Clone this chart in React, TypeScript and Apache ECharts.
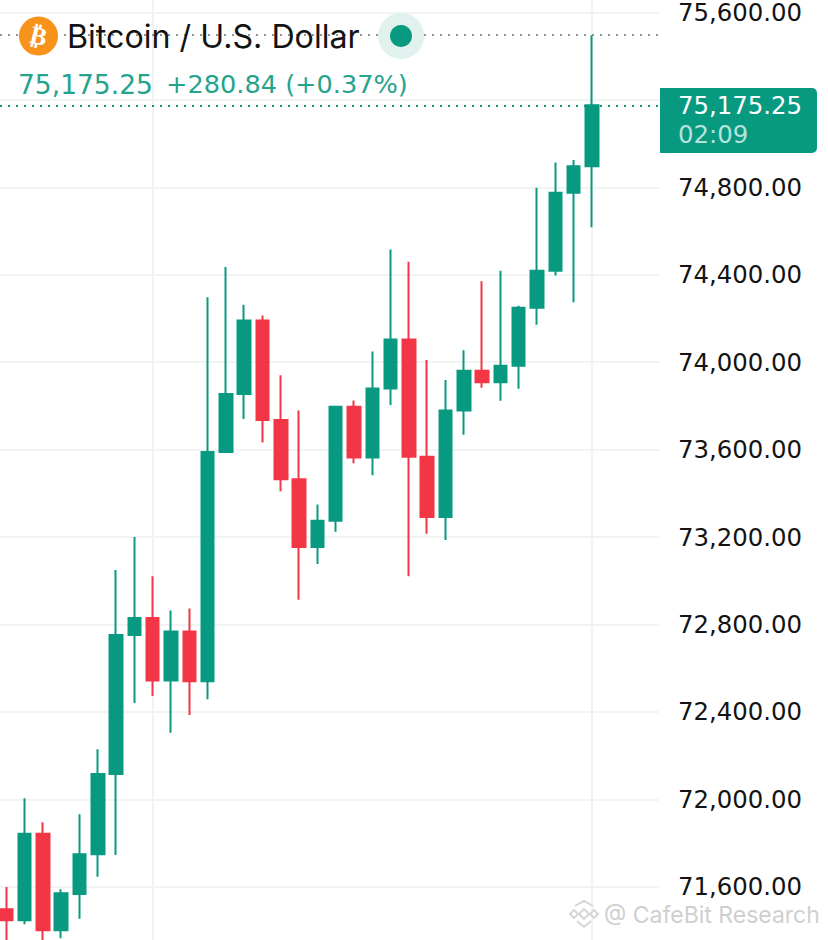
import React, { useEffect, useRef } from "react";
import * as echarts from "echarts";

const opens = [71497, 71447, 71842, 71401, 71567, 71749, 72116, 72752, 72830, 72544, 72768, 72540, 73589, 73854, 74191, 73736, 73464, 73154, 73274, 73796, 73564, 73880, 74104, 73567, 73292, 73779, 73961, 73908, 73984, 74249, 74418, 74775, 74897];
const closes = [71447, 71842, 71401, 71570, 71749, 72116, 72752, 72830, 72544, 72768, 72540, 73589, 73854, 74191, 73736, 73464, 73154, 73274, 73796, 73564, 73880, 74104, 73567, 73292, 73779, 73961, 73908, 73984, 74249, 74418, 74775, 74897, 75175.25];
const lows = [71332, 71428, 71332, 71364, 71453, 71645, 71745, 72441, 72473, 72304, 72386, 72458, 73589, 73740, 73633, 73409, 72913, 73077, 73224, 73538, 73483, 73804, 73021, 73215, 73186, 73668, 73883, 73823, 73878, 74171, 74397, 74274, 74617];
const highs = [71599, 72005, 71895, 71588, 71932, 72229, 73049, 73200, 73021, 72864, 72873, 74297, 74435, 74263, 74214, 73940, 73779, 73349, 73796, 73825, 74049, 74516, 74459, 74010, 73918, 74055, 74370, 74418, 74258, 74798, 74914, 74925, 75496];

const currentPrice = 75175.25;
const sessionHigh = 75496;
const verticalGridAt = [8, 32];
const axisMin = 71200;
const axisMax = 76000;
const hiddenTicks = [71200, 75200, 76000];

const title = "Bitcoin / U.S. Dollar";
const quotePrice = "75,175.25";
const quoteChange = "+280.84 (+0.37%)";
const tagPrice = "75,175.25";
const tagTime = "02:09";
const watermark = "@ CafeBit Research";

const GREEN = "#089981";
const RED = "#F23645";
const FONT = "Inter, 'Noto Sans', sans-serif";
const NUM = "'DejaVu Sans', sans-serif";

const fmt = (v: number) =>
  hiddenTicks.includes(v) ? "" : v.toLocaleString("en-US", { minimumFractionDigits: 2, maximumFractionDigits: 2 });

export default function App() {
  const ref = useRef<HTMLDivElement>(null);
  useEffect(() => {
    const chart = echarts.init(ref.current!, undefined, { renderer: "svg" });
    const iconStroke = "#d6d6d6";
    const chev = (points: number[][]) => ({
      type: "polyline",
      shape: { points },
      style: { stroke: iconStroke, lineWidth: 2, fill: "none" },
      z: 10,
    });
    const dia = (points: number[][]) => ({
      type: "polygon",
      shape: { points },
      style: { stroke: iconStroke, lineWidth: 2, fill: "none" },
      z: 10,
    });
    chart.setOption({
      animation: false,
      backgroundColor: "#ffffff",
      grid: { left: 0, top: -74.92, width: 659, height: 1049.04, outerBoundsMode: "none" },
      xAxis: {
        type: "value",
        min: -0.344,
        max: 35.667,
        show: false,
        splitLine: { show: false },
      },
      yAxis: {
        type: "value",
        position: "right",
        min: axisMin,
        max: axisMax,
        interval: 400,
        axisLine: { show: false },
        axisTick: { show: false },
        axisLabel: {
          margin: 19,
          color: "#131313",
          fontFamily: NUM,
          fontSize: 24.4,
          formatter: fmt,
        },
        splitLine: { show: true, lineStyle: { color: "#f2f3f3", width: 2 } },
      },
      series: [
        {
          type: "line",
          data: [],
          z: 1,
          silent: true,
          markLine: {
            silent: true,
            z: 1,
            symbol: "none",
            animation: false,
            label: { show: false },
            data: [
              ...verticalGridAt.map((x) => [
                { coord: [x, axisMax], lineStyle: { color: "#f1f2f2", width: 2, type: "solid" } },
                { coord: [x, axisMin] },
              ]),
              {
                yAxis: sessionHigh,
                lineStyle: { color: "#8a9a96", width: 2, type: [2, 6] },
              },
              {
                yAxis: currentPrice,
                lineStyle: { color: GREEN, width: 2, type: [2, 6] },
              },
            ],
          },
        },
        {
          type: "candlestick",
          clip: false,
          z: 3,
          barWidth: 13,
          encode: { x: 0, y: [1, 2, 3, 4] },
          data: opens.map((o, i) => [i, o, closes[i], lows[i], highs[i]]),
          itemStyle: {
            color: GREEN,
            color0: RED,
            borderColor: GREEN,
            borderColor0: RED,
            borderWidth: 2,
          },
        },
      ],
      graphic: [
        { type: "circle", shape: { cx: 38.5, cy: 36, r: 19.5 }, style: { fill: "#F7931A" }, z: 10 },
        {
          type: "text",
          x: 38.5,
          y: 36,
          rotation: -0.24,
          style: { text: "₿", fill: "#ffffff", font: "bold 25px 'DejaVu Sans'", align: "center", verticalAlign: "middle" },
          z: 11,
        },
        {
          type: "text",
          x: 67,
          y: 36,
          style: { text: title, fill: "#131313", font: `400 32.2px ${FONT}`, verticalAlign: "middle" },
          z: 10,
        },
        {
          type: "text",
          x: 18,
          y: 84,
          style: { text: quotePrice, fill: "#26A38C", font: `400 26.5px ${NUM}`, verticalAlign: "middle" },
          z: 10,
        },
        {
          type: "text",
          x: 166,
          y: 84,
          style: { text: quoteChange, fill: "#26A38C", font: `400 25.6px ${NUM}`, verticalAlign: "middle" },
          z: 10,
        },
        { type: "circle", shape: { cx: 401, cy: 36, r: 23 }, style: { fill: "#E0F1EE" }, z: 9 },
        { type: "circle", shape: { cx: 401, cy: 36, r: 11 }, style: { fill: GREEN }, z: 10 },
        {
          type: "rect",
          shape: { x: 660, y: 88, width: 157, height: 65, r: [0, 5, 5, 0] },
          style: { fill: GREEN },
          z: 10,
        },
        {
          type: "text",
          x: 678,
          y: 105,
          style: { text: tagPrice, fill: "#ffffff", font: `400 24.4px ${NUM}`, verticalAlign: "middle" },
          z: 11,
        },
        {
          type: "text",
          x: 678,
          y: 134,
          style: { text: tagTime, fill: "#B5E3DA", font: `400 24.4px ${NUM}`, verticalAlign: "middle" },
          z: 11,
        },
        chev([[575, 906], [584, 901], [593, 906]]),
        chev([[577, 921], [584, 927], [591, 921]]),
        dia([[584, 909], [589, 914], [584, 919], [579, 914]]),
        dia([[574, 910], [578, 914], [574, 918], [570, 914]]),
        dia([[594, 910], [598, 914], [594, 918], [590, 914]]),
        {
          type: "text",
          x: 604,
          y: 915,
          style: { text: watermark, fill: "#cfcfcf", font: `400 23px ${FONT}`, verticalAlign: "middle" },
          z: 10,
        },
      ],
    });
    return () => chart.dispose();
  }, []);
  return <div ref={ref} style={{ position: "absolute", left: 0, top: 0, width: 828, height: 940 }} />;
}
